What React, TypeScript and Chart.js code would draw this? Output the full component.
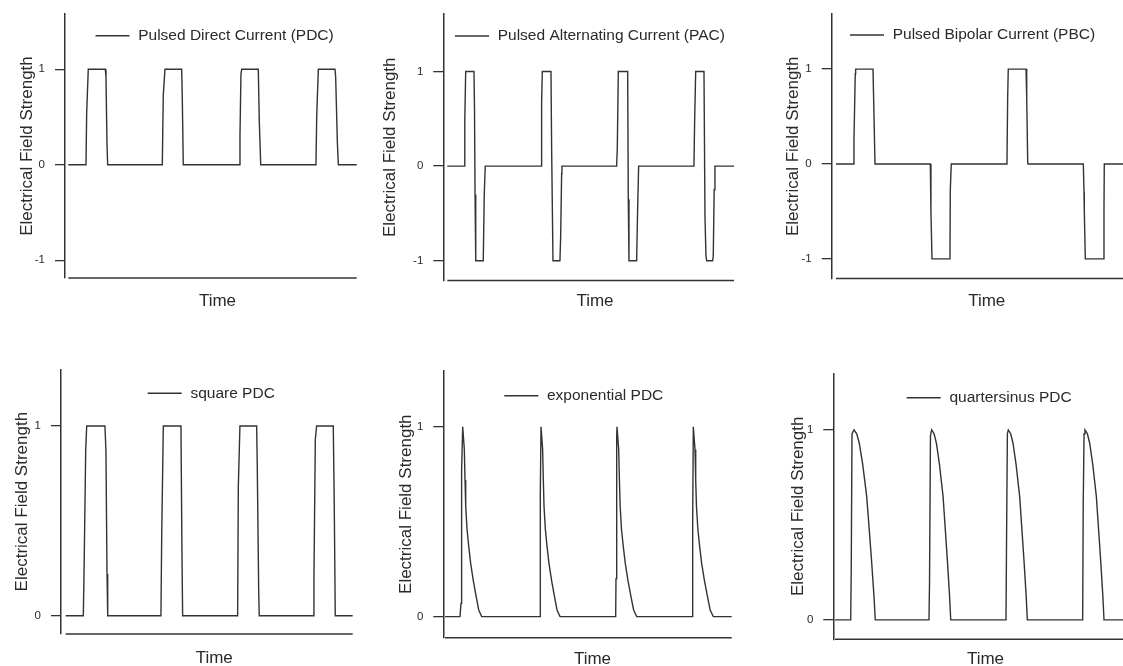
import { useEffect, useRef } from "react";
import { Chart, registerables } from "chart.js";

Chart.register(...registerables);

const FONT = "'Liberation Sans', Arial, Helvetica, sans-serif";
const INK = "#333333";
const TEXT = "#2a2a2a";

const Y_TITLE = "Electrical Field Strength";
const X_TITLE = "Time";

const TICKS_BIPOLAR = [-1, 0, 1];
const TICKS_UNIPOLAR = [0, 1];

// ---- Pulsed Direct Current (PDC) ----
const pdcLabel = "Pulsed Direct Current (PDC)";
const pdcTime = [0, 23.2, 24.1, 26.2, 48.5, 49.4, 50.7, 51.6, 123.2, 124.5, 126.7, 148.6, 149.4, 150.7, 224.1, 225, 226.3, 227.3, 249, 250.3, 252.2, 324.6, 325.6, 327.7, 349.5, 350.4, 352.6, 353.9, 378];
const pdcValue = [0, 0, 0.54, 1, 1, 0.92, 0.23, 0, 0, 0.73, 1, 1, 0.7, 0, 0, 0.3, 0.95, 1, 1, 0.46, 0, 0, 0.52, 1, 1, 0.92, 0.24, 0, 0];

// ---- Pulsed Alternating Current (PAC) ----
const pacLabel = "Pulsed Alternating Current (PAC)";
const pacTime = [0, 22.2, 22.8, 24, 34.8, 35.5, 36.2, 36.8, 37.4, 46.9, 48.2, 49.5, 122.2, 123, 123.9, 135.2, 136.1, 137.8, 146.9, 147.8, 149.1, 149.5, 220.8, 221.7, 223, 235.2, 236, 236.9, 246.9, 248.2, 249.5, 321.6, 322.5, 323.9, 334.7, 336, 337.3, 338.2, 346, 346.8, 348, 349, 373.9];
const pacValue = [0, 0, 0.47, 1, 1, 0.6, -0.3, -0.75, -1, -1, -0.3, 0, 0, 0.67, 1, 1, 0.16, -1, -1, -0.75, -0.08, 0, 0, 0.2, 1, 1, -0.35, -1, -1, -0.45, 0, 0, 0.47, 1, 1, -0.53, -0.95, -1, -1, -0.95, -0.25, 0, 0];

// ---- Pulsed Bipolar Current (PBC) ----
const pbcLabel = "Pulsed Bipolar Current (PBC)";
const pbcTime = [0, 23.1, 23.5, 25.2, 25.7, 48.4, 49.7, 51, 123.3, 124.1, 125.5, 149, 149.4, 150.7, 223.1, 223.5, 224.4, 225.2, 248.4, 249.3, 250.6, 251, 323.3, 324.2, 324.6, 325.9, 349.4, 350.3, 350.7, 380];
const pbcValue = [0, 0, 0.25, 0.95, 1, 1, 0.5, 0, 0, -0.5, -1, -1, -0.28, 0, 0, 0.02, 0.7, 1, 1, 0.7, 0.02, 0, 0, -0.3, -0.5, -1, -1, -0.5, 0, 0];

// ---- square PDC ----
const squareLabel = "square PDC";
const squareTime = [0, 23, 23.9, 26.1, 27.4, 51.2, 52.5, 53.9, 54.8, 124.2, 125.2, 127.3, 150.3, 151.6, 152.5, 224.2, 225.1, 227.2, 249, 249.8, 251.7, 252.4, 322.8, 323.7, 325.5, 327.2, 348.9, 350.2, 351.5, 374.2];
const squareValue = [0, 0, 0.22, 0.87, 1, 1, 0.87, 0.22, 0, 0, 0.42, 1, 1, 0.34, 0, 0, 0.68, 1, 1, 0.79, 0.12, 0, 0, 0.2, 0.93, 1, 1, 0.58, 0, 0];

// ---- exponential PDC ----
const expLabel = "exponential PDC";
const expTime = [0, 19.4, 20.7, 21.5, 22.9, 25, 25.9, 26.8, 28.5, 30.7, 33.2, 36.6, 40.1, 43.6, 47.5,
  122.9, 123.3, 124.2, 126.3, 127.2, 128.1, 129.8, 132, 134.5, 137.9, 141.4, 144.9, 148.8,
  220.8, 221.2, 222.1, 222.5, 224.7, 225.6, 226.6, 228.3, 230.6, 233.2, 236.7, 240.3, 244, 248,
  320, 320.4, 321.2, 323.4, 324.3, 325.3, 327.1, 329.4, 332, 335.6, 339.3, 343, 347.1, 370.9];
const expValue = [0, 0, 0.07, 0.77, 1, 0.88, 0.72, 0.58, 0.46, 0.37, 0.28, 0.19, 0.11, 0.035, 0,
  0, 0.65, 1, 0.88, 0.72, 0.58, 0.46, 0.37, 0.28, 0.19, 0.11, 0.035, 0,
  0, 0.2, 0.95, 1, 0.88, 0.72, 0.58, 0.46, 0.37, 0.28, 0.19, 0.11, 0.035, 0,
  0, 0.5, 1, 0.88, 0.72, 0.58, 0.46, 0.37, 0.28, 0.19, 0.11, 0.035, 0, 0];

// ---- quartersinus PDC ----
const qsLabel = "quartersinus PDC";
const qsTime = [0, 20.3, 21, 22, 24.6, 28.1, 31.4, 35.8, 41, 44.4, 47.5, 50.5, 52.1,
  121.6, 122.3, 123.5, 125.1, 128.2, 131.2, 135.1, 139.8, 142.8, 145.6, 148.3, 149.7,
  221.2, 221.9, 223, 224.2, 227.3, 230.3, 234.2, 238.9, 241.9, 244.7, 247.4, 248.8,
  320.4, 321.1, 322.2, 323.4, 326.5, 329.5, 333.4, 338.1, 341.1, 343.9, 346.6, 348, 380];
const qsValue = [0, 0, 0.26, 0.98, 1, 0.98, 0.93, 0.82, 0.65, 0.47, 0.3, 0.12, 0,
  0, 0.2, 0.97, 1, 0.98, 0.93, 0.82, 0.65, 0.47, 0.3, 0.12, 0,
  0, 0.4, 0.98, 1, 0.98, 0.93, 0.82, 0.65, 0.47, 0.3, 0.12, 0,
  0, 0.6, 0.98, 1, 0.98, 0.93, 0.82, 0.65, 0.47, 0.3, 0.12, 0, 0];

type PanelCfg = {
  label: string;
  time: number[];
  value: number[];
  ticks: number[];
  xMin: number; xMax: number;
  yMin: number; yMax: number;
  box: { left: number; top: number; w: number; h: number };
  pad: { left: number; top: number; right: number; bottom: number };
  yW: number; xH: number;
  legend: { dx: number; dy: number };
};

const PANELS: PanelCfg[] = [
  {
    label: pdcLabel, time: pdcTime, value: pdcValue, ticks: TICKS_BIPOLAR,
    xMin: -4.3, xMax: 395.4, yMin: -1.186, yMax: 1.578,
    box: { left: 0, top: 0, w: 375, h: 333 },
    pad: { left: 17.5, top: 14, right: 5, bottom: 21.3 }, yW: 47.5, xH: 33.7,
    legend: { dx: 30.5, dy: 21.8 },
  },
  {
    label: pacLabel, time: pacTime, value: pacValue, ticks: TICKS_BIPOLAR,
    xMin: -5.2, xMax: 390.4, yMin: -1.209, yMax: 1.607,
    box: { left: 375, top: 0, w: 375, h: 333 },
    pad: { left: 5.5, top: 14, right: 3.3, bottom: 21.3 }, yW: 62.8, xH: 31.2,
    legend: { dx: 11.7, dy: 22 },
  },
  {
    label: pbcLabel, time: pbcTime, value: pbcValue, ticks: TICKS_BIPOLAR,
    xMin: -5.6, xMax: 399.6, yMin: -1.207, yMax: 1.581,
    box: { left: 750, top: 0, w: 410, h: 333 },
    pad: { left: 32.8, top: 14, right: 18.3, bottom: 21.3 }, yW: 48.9, xH: 33.2,
    legend: { dx: 18.3, dy: 21 },
  },
  {
    label: squareLabel, time: squareTime, value: squareValue, ticks: TICKS_UNIPOLAR,
    xMin: -6.1, xMax: 393.4, yMin: -0.096, yMax: 1.299,
    box: { left: 0, top: 333, w: 375, h: 367 },
    pad: { left: 11.8, top: 36.3, right: 7.6, bottom: 31.8 }, yW: 49.2, xH: 34.2,
    legend: { dx: 86.7, dy: 24 },
  },
  {
    label: expLabel, time: expTime, value: expValue, ticks: TICKS_UNIPOLAR,
    xMin: -2.2, xMax: 383.8, yMin: -0.111, yMax: 1.295,
    box: { left: 375, top: 333, w: 375, h: 367 },
    pad: { left: 21.2, top: 37.7, right: 8.3, bottom: 30.1 }, yW: 47.1, xH: 32.2,
    legend: { dx: 61, dy: 25 },
  },
  {
    label: qsLabel, time: qsTime, value: qsValue, ticks: TICKS_UNIPOLAR,
    xMin: -2.2, xMax: 391.6, yMin: -0.102, yMax: 1.298,
    box: { left: 750, top: 333, w: 410, h: 367 },
    pad: { left: 37.8, top: 40.3, right: 22.3, bottom: 30.1 }, yW: 45.5, xH: 30.6,
    legend: { dx: 73.4, dy: 24.4 },
  },
];

// Legend drawn inside the plot area: a short line sample followed by the series label.
const lineLegend = {
  id: "lineLegend",
  afterDatasetsDraw(chart: any) {
    const opts = chart.options.plugins.lineLegend;
    if (!opts) return;
    const { ctx, chartArea } = chart;
    const ds = chart.data.datasets[0];
    const x = chartArea.left + opts.dx;
    const y = chartArea.top + opts.dy;
    ctx.save();
    ctx.strokeStyle = ds.borderColor;
    ctx.lineWidth = ds.borderWidth;
    ctx.beginPath();
    ctx.moveTo(x, y);
    ctx.lineTo(x + opts.length, y);
    ctx.stroke();
    ctx.fillStyle = TEXT;
    ctx.font = `${opts.size}px ${FONT}`;
    ctx.textAlign = "left";
    ctx.textBaseline = "middle";
    ctx.fillText(ds.label, x + opts.length + opts.gap, y);
    ctx.restore();
  },
};

// Time axis line spanning the recorded time range (starts a little right of the y axis).
const timeAxisLine = {
  id: "timeAxisLine",
  afterDatasetsDraw(chart: any) {
    const xs = chart.scales.x;
    const pts = chart.data.datasets[0].data as { x: number; y: number }[];
    const x1 = xs.getPixelForValue(pts[0].x);
    const x2 = xs.getPixelForValue(pts[pts.length - 1].x);
    const y = chart.chartArea.bottom;
    const ctx = chart.ctx;
    ctx.save();
    ctx.strokeStyle = INK;
    ctx.lineWidth = 1.5;
    ctx.beginPath();
    ctx.moveTo(x1, y);
    ctx.lineTo(x2, y);
    ctx.stroke();
    ctx.restore();
  },
};

function Panel({ cfg }: { cfg: PanelCfg }) {
  const ref = useRef<HTMLCanvasElement>(null);
  useEffect(() => {
    if (!ref.current) return;
    const chart = new Chart(ref.current, {
      type: "line",
      data: {
        datasets: [
          {
            label: cfg.label,
            data: cfg.time.map((t, i) => ({ x: t, y: cfg.value[i] })),
            borderColor: INK,
            borderWidth: 1.4,
            pointRadius: 0,
            pointHoverRadius: 0,
            tension: 0,
            fill: false,
          },
        ],
      },
      options: {
        animation: false,
        responsive: false,
        events: [],
        layout: { padding: cfg.pad },
        plugins: {
          legend: { display: false },
          tooltip: { enabled: false },
          lineLegend: { dx: cfg.legend.dx, dy: cfg.legend.dy, length: 34, gap: 8.7, size: 15.5 },
        } as any,
        scales: {
          x: {
            type: "linear",
            min: cfg.xMin,
            max: cfg.xMax,
            ticks: { display: false },
            grid: { display: false },
            border: { display: false },
            title: {
              display: true,
              text: X_TITLE,
              color: TEXT,
              font: { family: FONT, size: 17 },
              padding: 0,
            },
            afterFit: (s: any) => {
              s.height = cfg.xH;
              s.paddingLeft = 0;
              s.paddingRight = 0;
            },
          },
          y: {
            type: "linear",
            min: cfg.yMin,
            max: cfg.yMax,
            afterBuildTicks: (s: any) => {
              s.ticks = cfg.ticks.map((v) => ({ value: v }));
            },
            ticks: {
              color: TEXT,
              font: { family: FONT, size: 11.5 },
              padding: 10,
              callback: (v: any) => String(v),
            },
            grid: {
              display: true,
              drawOnChartArea: false,
              drawTicks: true,
              tickLength: 10,
              color: INK,
              lineWidth: 1.3,
            },
            border: { display: true, color: INK, width: 1.5 },
            title: {
              display: true,
              text: Y_TITLE,
              color: TEXT,
              font: { family: FONT, size: 17 },
              padding: 0,
            },
            afterFit: (s: any) => {
              s.width = cfg.yW;
              s.paddingTop = 0;
              s.paddingBottom = 0;
            },
          },
        },
      } as any,
      plugins: [lineLegend, timeAxisLine],
    });
    return () => chart.destroy();
  }, [cfg]);
  return (
    <canvas
      ref={ref}
      width={cfg.box.w}
      height={cfg.box.h}
      style={{
        position: "absolute",
        left: cfg.box.left,
        top: cfg.box.top,
        width: cfg.box.w,
        height: cfg.box.h,
      }}
    />
  );
}

export default function App() {
  return (
    <div
      style={{
        position: "absolute",
        left: 0,
        top: 0,
        width: 1123,
        height: 666,
        overflow: "hidden",
        background: "#ffffff",
      }}
    >
      {PANELS.map((p) => (
        <Panel key={p.label} cfg={p} />
      ))}
    </div>
  );
}
